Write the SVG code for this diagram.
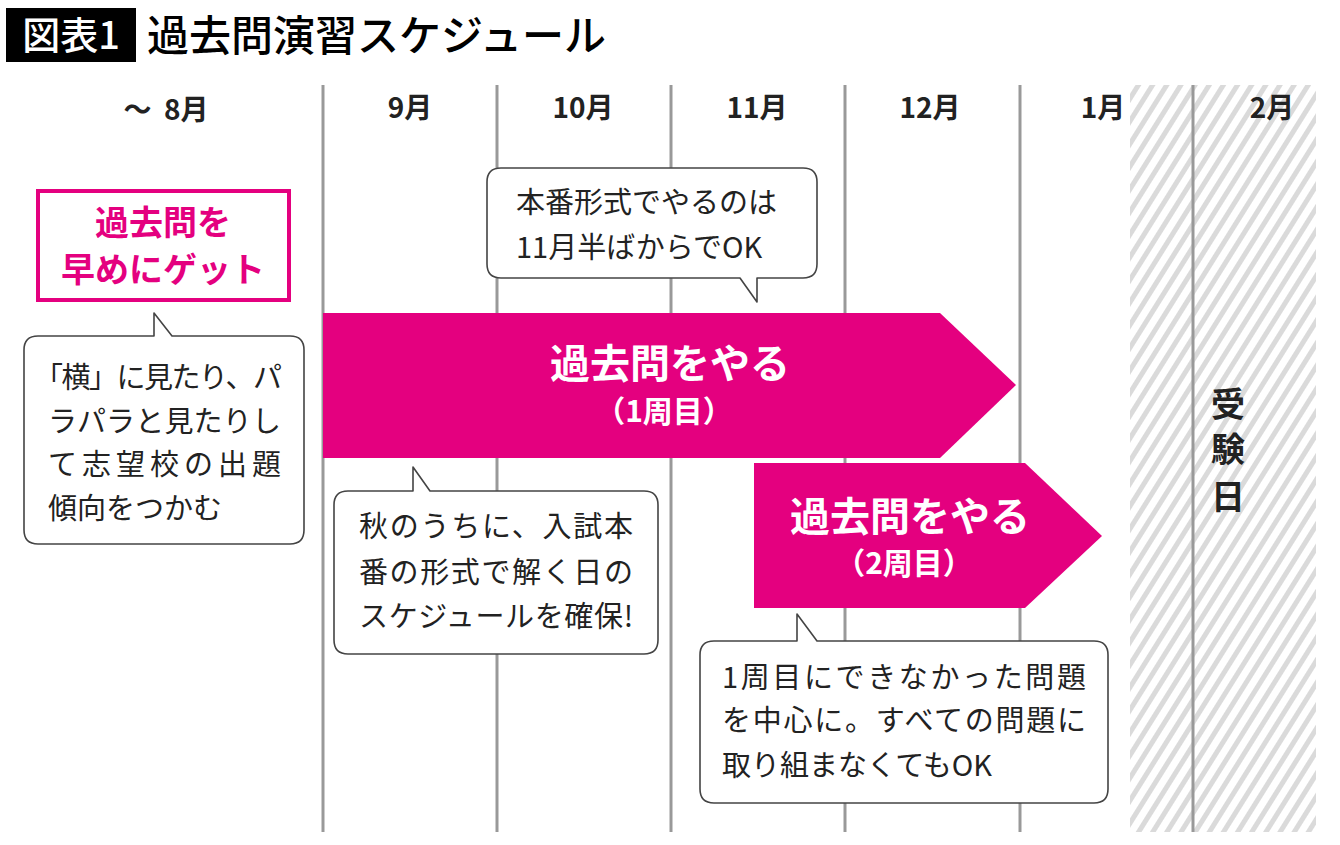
<svg xmlns="http://www.w3.org/2000/svg" width="1340" height="845" viewBox="0 0 1340 845">
<style>
text{font-family:"Noto Sans CJK JP","Noto Sans",sans-serif;}
.mon{font-size:28px;font-weight:700;fill:#222;text-anchor:middle;}
.vl{stroke:#999;stroke-width:3;}
.bub{fill:#fff;stroke:#444;stroke-width:1.6;stroke-linejoin:round;}
.bt{font-size:29px;fill:#222;}
.arrow{fill:#E4007F;}
.at1{font-size:40px;font-weight:700;fill:#fff;text-anchor:middle;}
.at2{font-size:30px;font-weight:700;fill:#fff;text-anchor:middle;}
</style>
<defs>
<pattern id="hatch" width="12" height="12" patternUnits="userSpaceOnUse" patternTransform="rotate(32)">
<rect width="12" height="12" fill="#fff"/>
<rect x="0" y="0" width="5" height="12" fill="#dadada"/>
</pattern>
</defs>
<rect width="1340" height="845" fill="#fff"/>
<g id="title">
<rect x="6" y="8" width="130" height="54" fill="#000"/>
<text x="71" y="49" font-size="38" fill="#fff" text-anchor="middle" font-weight="500">図表1</text>
<text x="147" y="51" font-size="42" fill="#000" font-weight="500">過去問演習スケジュール</text>
</g>
<g id="exam-period">
<rect x="1130" y="85" width="186" height="747" fill="url(#hatch)"/>
</g>
<g id="grid">
<line class="vl" x1="323" y1="85" x2="323" y2="832"/>
<line class="vl" x1="497" y1="85" x2="497" y2="832"/>
<line class="vl" x1="671" y1="85" x2="671" y2="832"/>
<line class="vl" x1="845" y1="85" x2="845" y2="832"/>
<line class="vl" x1="1020" y1="85" x2="1020" y2="832"/>
<line class="vl" x1="1193" y1="85" x2="1193" y2="832"/>
</g>
<g id="months">
<text class="mon" x="166" y="120" xml:space="preserve">～  8月</text>
<text class="mon" x="410" y="118">9月</text>
<text class="mon" x="583" y="118">10月</text>
<text class="mon" x="757" y="118">11月</text>
<text class="mon" x="930" y="118">12月</text>
<text class="mon" x="1103" y="118">1月</text>
<text class="mon" x="1272" y="118">2月</text>
</g>
<g id="get-early">
<rect x="38" y="191" width="251" height="109" fill="#fff" stroke="#E4007F" stroke-width="4"/>
<text x="163" y="235" font-size="34" font-weight="700" fill="#E4007F" text-anchor="middle">過去問を</text>
<text x="163" y="282" font-size="34" font-weight="700" fill="#E4007F" text-anchor="middle">早めにゲット</text>
</g>
<g id="callout-1">
<path class="bub" d="M38,336 H154 V313 L172,336 H290 Q304,336 304,350 V530 Q304,544 290,544 H38 Q24,544 24,530 V350 Q24,336 38,336 Z"/>
<text class="bt" x="34" y="388" textLength="248" lengthAdjust="spacing">「横」に見たり、パ</text>
<text class="bt" x="48" y="432" textLength="233" lengthAdjust="spacing">ラパラと見たりし</text>
<text class="bt" x="48" y="475" textLength="233" lengthAdjust="spacing">て志望校の出題</text>
<text class="bt" x="48" y="519">傾向をつかむ</text>
</g>
<g id="callout-2">
<path class="bub" d="M501,168 H803 Q817,168 817,182 V264 Q817,278 803,278 H757 V302 L740,278 H501 Q487,278 487,264 V182 Q487,168 501,168 Z"/>
<text class="bt" x="516" y="213">本番形式でやるのは</text>
<text class="bt" x="516" y="258">11月半ばからでOK</text>
</g>
<g id="arrow-1">
<polygon class="arrow" points="323,313 940,313 1016,385 940,458 323,458"/>
<text class="at1" x="670" y="378">過去問をやる</text>
<text class="at2" x="664" y="422">（1周目）</text>
</g>
<g id="arrow-2">
<polygon class="arrow" points="754,463 1025,463 1102,536 1025,608 754,608"/>
<text class="at1" x="910" y="531">過去問をやる</text>
<text class="at2" x="904" y="574">（2周目）</text>
</g>
<g id="callout-3">
<path class="bub" d="M348,491 H413 V467 L430,491 H644 Q658,491 658,505 V640 Q658,654 644,654 H348 Q334,654 334,640 V505 Q334,491 348,491 Z"/>
<text class="bt" x="359" y="537" textLength="274" lengthAdjust="spacing">秋のうちに、入試本</text>
<text class="bt" x="359" y="583" textLength="274" lengthAdjust="spacing">番の形式で解く日の</text>
<text class="bt" x="359" y="627" textLength="274" lengthAdjust="spacing">スケジュールを確保!</text>
</g>
<g id="callout-4">
<path class="bub" d="M714,641 H797 V614 L817,641 H1094 Q1108,641 1108,655 V789 Q1108,803 1094,803 H714 Q700,803 700,789 V655 Q700,641 714,641 Z"/>
<text class="bt" x="722" y="688" textLength="364" lengthAdjust="spacing">1周目にできなかった問題</text>
<text class="bt" x="722" y="731" textLength="364" lengthAdjust="spacing">を中心に。すべての問題に</text>
<text class="bt" x="722" y="776">取り組まなくてもOK</text>
</g>
<g id="exam-day">
<text x="1228" y="417" font-size="34" font-weight="700" fill="#222" text-anchor="middle">受</text>
<text x="1228" y="462" font-size="34" font-weight="700" fill="#222" text-anchor="middle">験</text>
<text x="1228" y="509" font-size="34" font-weight="700" fill="#222" text-anchor="middle">日</text>
</g>
</svg>
